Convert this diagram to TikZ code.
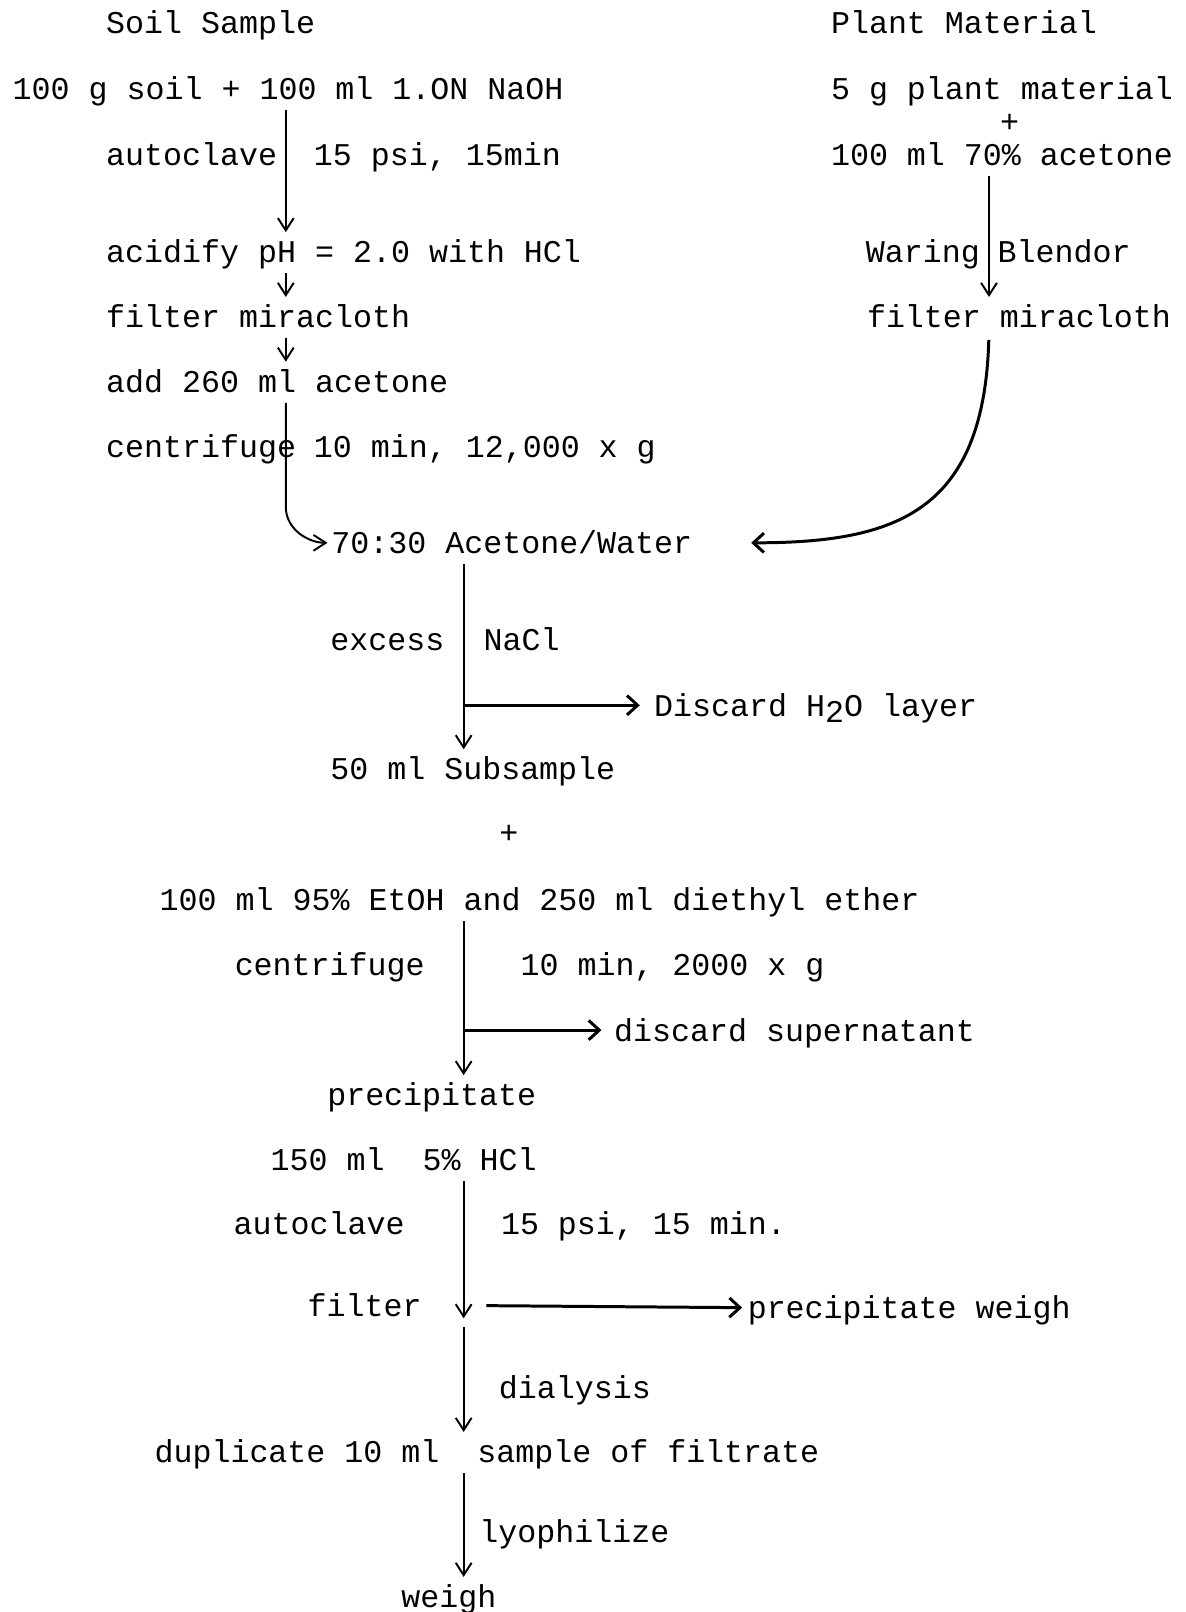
\documentclass[tikz,border=0pt]{standalone}
\usepackage{fontspec}
\setmainfont{Liberation Mono}
\usetikzlibrary{
  arrows.meta,
  calc
}

\begin{document}
\begin{tikzpicture}[
  x=0.2055mm, y=-0.2055mm,
  every node/.style={font=\fontsize{18}{22}\selectfont, inner sep=0pt,
                     text height=15.25pt, text depth=2.75pt},
  txt/.style={anchor=west},
  arr/.style={-{Straight Barb[length=7pt,width=9pt]}, line width=1.1pt,
              shorten <=3pt, shorten >=2pt},
  side/.style={-{Straight Barb[length=6pt,width=11pt]}, line width=1.7pt},
]
\useasboundingbox (0,0) rectangle (1153,1568);

% -- Arrow columns ------------------------------
\coordinate (colA) at (278,0);
\coordinate (colB) at (962,0);
\coordinate (colC) at (451,0);

% -- Column heads -------------------------------
\node[txt] (soil)  at (103,22)  {Soil Sample};
\node[txt] (plant) at (808,22)  {Plant Material};

% -- Soil column --------------------------------
\node[txt] (mix)   at (12,86)   {100 g soil + 100 ml 1.ON NaOH};
\node[txt] (autoL) at (103,150) {autoclave};
\node[txt] (autoR) at (305,150) {15 psi, 15min};
\node[txt] (acid)  at (103,245) {acidify pH = 2.0 with HCl};
\node[txt] (filt)  at (103,308) {filter miracloth};
\node[txt] (add)   at (103,371) {add 260 ml acetone};
\node[txt] (cenL)  at (103,434) {centrifuge};
\node[txt] (cenR)  at (305,434) {10 min, 12,000 x g};

% -- Plant column -------------------------------
\node[txt] (pmat)   at (808,86)  {5 g plant material};
\node      (pplus)  at (982,118) {+};
\node[txt] (pacet)  at (808,150) {100 ml 70\% acetone};
\node[txt] (waring) at (842,245) {Waring};
\node[txt] (blend)  at (970,245) {Blendor};
\node[txt] (pfilt)  at (843,308) {filter miracloth};

% -- Combined extract ---------------------------
\node[txt] (ratio) at (322,528)  {70:30 Acetone/Water};
\node[txt] (exc)   at (321,622)  {excess};
\node[txt] (nacl)  at (470,622)  {NaCl};
\node[txt] (disc)  at (636,686)  {Discard H\raisebox{-0.35ex}{2}O layer};
\node[txt] (sub)   at (321,748)  {50 ml Subsample};
\node      (plus)  at (495,810)  {+};
\node[txt] (etoh)  at (155,875)  {100 ml 95\% EtOH and 250 ml diethyl ether};
\node[txt] (cen2L) at (228,938)  {centrifuge};
\node[txt] (cen2R) at (506,938)  {10 min, 2000 x g};
\node[txt] (super) at (597,1002) {discard supernatant};
\node[txt] (prec)  at (318,1065) {precipitate};

% -- Hydrolysis ---------------------------------
\node[txt] (hcl)    at (263,1128) {150 ml~~5\% HCl};
\node[txt] (auto2L) at (227,1190) {autoclave};
\node[txt] (auto2R) at (487,1190) {15 psi, 15 min.};
\node[txt] (filt2)  at (299,1270) {filter};
\node[txt] (pweigh) at (727,1272) {precipitate weigh};
\node[txt] (dial)   at (485,1350) {dialysis};
\node[txt] (dup)    at (150,1412) {duplicate 10 ml~~sample of filtrate};
\node[txt] (lyo)    at (466,1490) {lyophilize};
\node[txt] (weigh)  at (390,1553) {weigh};

% -- Arrows: soil column ------------------------
\draw[arr] (mix.south -| colA)  -- (acid.north -| colA);
\draw[arr] (acid.south -| colA) -- (filt.north -| colA);
\draw[arr] (filt.south -| colA) -- (add.north -| colA);
\draw[arr] (add.south -| colA) -- ($(ratio.west -| colA)+(0,-35)$)
  .. controls +(0,22) and +(-22,0) .. (ratio.west);

% -- Arrows: plant column -----------------------
\draw[arr] (pacet.south -| colB) -- (pfilt.north -| colB);
\draw[side, shorten <=4pt] (pfilt.south -| colB)
  .. controls +(-5,175) and +(140,0) .. ($(ratio.east)+(57,0)$);

% -- Arrows: salting out and precipitation ------
\draw[arr] (ratio.south -| colC) -- (sub.north -| colC);
\draw[side, shorten >=8pt] (disc.west -| colC) -- (disc.west);
\draw[arr] (etoh.south -| colC) -- (prec.north -| colC);
\draw[side, shorten >=7pt] (super.west -| colC) -- (super.west);

% -- Arrows: hydrolysis -------------------------
\draw[arr] (hcl.south -| colC) -- (filt2.south -| colC);
\draw[side, shorten >=3pt] ($(filt2.east -| colC)+(22,0)$) -- (pweigh.west);
\draw[arr] (filt2.south -| colC) -- (dup.north -| colC);
\draw[arr] (dup.south -| colC) -- (weigh.north -| colC);

\end{tikzpicture}
\end{document}
